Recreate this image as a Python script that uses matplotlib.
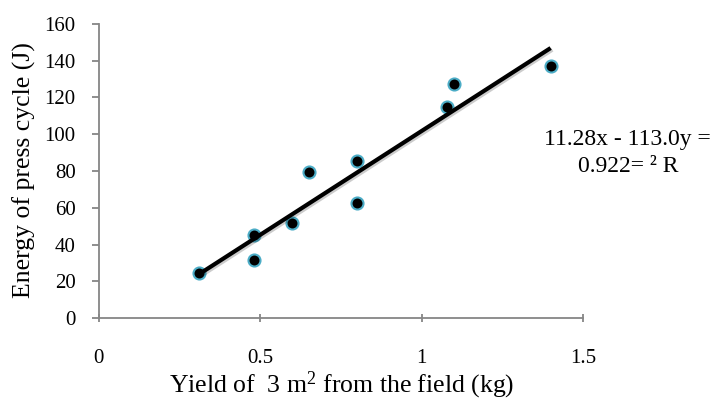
import matplotlib
matplotlib.use("Agg")
import matplotlib.pyplot as plt
import matplotlib.patheffects as pe
import numpy as np

plt.rcParams['font.family'] = ['Liberation Serif', 'DejaVu Serif']
plt.rcParams['mathtext.fontset'] = 'custom'
plt.rcParams['mathtext.rm'] = 'Liberation Serif'
plt.rcParams['mathtext.it'] = 'Liberation Serif:italic'

# data
yield_kg = [0.31, 0.48, 0.48, 0.60, 0.65, 0.80, 0.80, 1.08, 1.10, 1.40]
energy_j = [24.5, 31.5, 45.2, 51.5, 79.7, 85.2, 62.5, 115.0, 127.3, 137.0]
slope, intercept = 113.0, -11.28
x_ticks = [0, 0.5, 1, 1.5]
x_tick_labels = ['0', '0.5', '1', '1.5']
y_ticks = [0, 20, 40, 60, 80, 100, 120, 140, 160]

fig = plt.figure(figsize=(7.10, 4.00), dpi=100)
ax = fig.add_axes([0.139, 0.205, 0.682, 0.735])

ax.scatter(yield_kg, energy_j, s=75, facecolor='black', edgecolor='#4BACC6',
           linewidths=1.5, zorder=3)
xl = np.array([min(yield_kg), max(yield_kg)])
ax.plot(xl, slope * xl + intercept, color='black', lw=3.0, zorder=4,
        solid_capstyle='butt',
        path_effects=[pe.SimpleLineShadow(offset=(1.2, -1.2), alpha=0.2), pe.Normal()])

ax.set_xlim(0, 1.5)
ax.set_ylim(0, 160)
ax.set_xticks(x_ticks)
ax.set_xticklabels(x_tick_labels)
ax.set_yticks(y_ticks)
for s in ['top', 'right']:
    ax.spines[s].set_visible(False)
for s in ['left', 'bottom']:
    ax.spines[s].set_color('#868686')
    ax.spines[s].set_linewidth(1.3)
ax.tick_params(axis='x', direction='inout', length=6, width=1.3, color='#868686',
               labelsize=15, pad=19)
ax.tick_params(axis='y', direction='out', length=5, width=1.3, color='#868686',
               labelsize=15, pad=11.5)

fig.text(0.034, 0.575, 'Energy of press cycle (J)', rotation=90, ha='center',
         va='center', fontsize=18.5)
fig.text(0.481, 0.036, 'Yield of  3 m$^{2}$ from the field (kg)', ha='center',
         va='center', fontsize=18.5)

fig.text(0.884, 0.650, '11.28x - 113.0y =', ha='center', va='center', fontsize=17)
fig.text(0.885, 0.583, '0.922= ² R', ha='center', va='center', fontsize=17)

fig.savefig('out.png', dpi=100)
